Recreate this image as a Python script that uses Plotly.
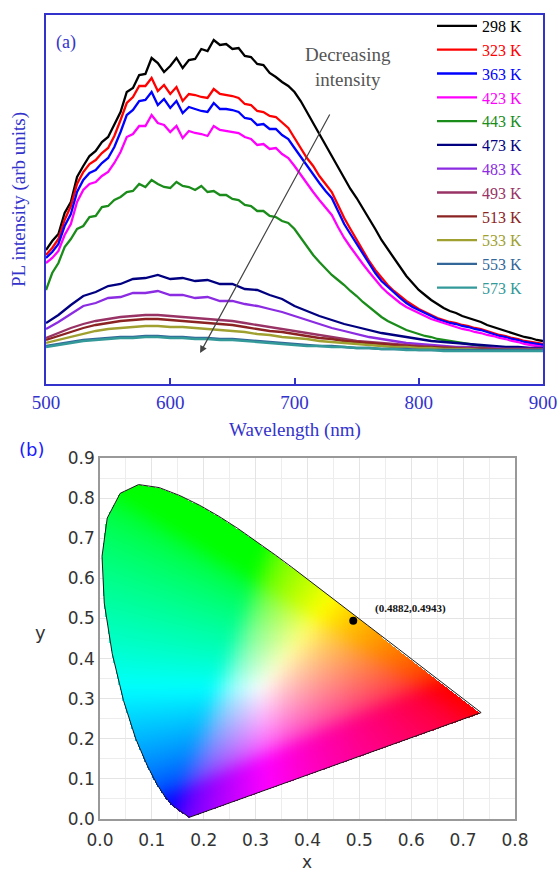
import numpy as np
import plotly.graph_objects as go

# ---------------- (a) PL spectra vs temperature ----------------
wl_fine = list(range(500, 905, 5))    # 5 nm sampling, 500-900 nm
wl_coarse = list(range(500, 910, 10))  # 10 nm sampling, 500-900 nm

temps = ["298 K", "323 K", "363 K", "423 K", "443 K", "473 K",
         "483 K", "493 K", "513 K", "533 K", "553 K", "573 K"]
colors = ["#000000", "#ff0000", "#0000ff", "#ff00ff", "#1a8c1a", "#000080",
          "#8b2be2", "#993366", "#8b2323", "#a0a030", "#336699", "#339999"]

pl_298 = [134, 143, 150, 171, 182, 207, 218, 228, 233, 242,
          247, 260, 272, 292, 296, 309, 310, 326, 321, 312,
          318, 326, 316, 324, 325, 335, 333, 344, 339, 340,
          335, 336, 328, 327, 320, 319, 311, 307, 302, 298,
          292, 283, 272, 261, 251, 240, 229, 218, 206, 195,
          186, 176, 166, 155, 144, 135, 126, 117, 108, 101,
          94, 89, 84, 80, 76, 73, 71, 68, 66, 64,
          62, 59, 57, 55, 53, 51, 49, 47, 46, 44,
          43]
pl_323 = [129, 136, 145, 164, 178, 200, 212, 220, 224, 231,
          236, 248, 264, 281, 287, 298, 298, 306, 293, 299,
          290, 297, 283, 290, 289, 287, 286, 295, 290, 289,
          288, 286, 280, 279, 273, 272, 268, 267, 261, 256,
          246, 236, 226, 218, 208, 200, 192, 179, 166, 155,
          144, 133, 123, 114, 106, 99, 93, 88, 83, 79,
          75, 72, 69, 66, 64, 62, 61, 59, 58, 56,
          55, 53, 51, 49, 48, 46, 45, 43, 42, 41,
          40]
pl_363 = [126, 132, 140, 158, 170, 192, 204, 211, 214, 221,
          226, 237, 252, 269, 274, 283, 284, 292, 279, 285,
          276, 283, 271, 277, 275, 273, 272, 281, 275, 275,
          274, 272, 266, 265, 259, 260, 255, 255, 249, 245,
          236, 227, 218, 209, 201, 193, 186, 173, 160, 150,
          140, 130, 120, 111, 103, 97, 91, 86, 81, 77,
          74, 71, 68, 65, 63, 61, 60, 58, 57, 55,
          54, 52, 50, 48, 47, 45, 44, 42, 41, 40,
          39]
pl_423 = [121, 126, 133, 149, 160, 182, 194, 200, 202, 208,
          212, 221, 232, 247, 250, 258, 258, 269, 261, 259,
          252, 258, 246, 253, 251, 250, 248, 258, 254, 253,
          252, 251, 247, 245, 239, 240, 235, 236, 230, 226,
          218, 209, 201, 192, 184, 176, 169, 157, 146, 137,
          128, 120, 112, 104, 97, 91, 86, 81, 77, 74,
          71, 68, 65, 63, 61, 59, 57, 55, 54, 52,
          51, 49, 48, 46, 45, 43, 42, 40, 39, 38,
          37]
pl_443 = [94, 111, 121, 137, 145, 155, 158, 167, 168, 177,
          178, 184, 187, 192, 193, 200, 197, 204, 200, 197,
          196, 202, 198, 197, 194, 198, 192, 193, 189, 189,
          185, 184, 179, 178, 173, 173, 168, 167, 163, 161,
          155, 146, 137, 129, 122, 115, 109, 104, 99, 93,
          88, 82, 77, 72, 67, 63, 60, 57, 54, 52,
          50, 48, 47, 45, 44, 43, 42, 41, 40, 39,
          38, 37, 37, 36, 36, 35, 35, 34, 34, 34,
          34]
pl_473 = [61, 69, 79, 88, 92, 98, 100, 105, 106, 109,
          105, 106, 103, 104, 100, 100, 95, 94, 89, 85,
          78, 73, 68, 64, 60, 57, 54, 51, 49, 47,
          45, 43, 42, 41, 40, 39, 38, 37, 37, 36,
          36]
pl_483 = [55, 62, 70, 78, 81, 86, 87, 91, 91, 93,
          89, 89, 86, 87, 83, 83, 80, 78, 75, 72,
          68, 64, 60, 56, 53, 50, 47, 45, 43, 41,
          40, 39, 38, 37, 37, 36, 36, 35, 35, 35,
          35]
pl_493 = [46, 51, 56, 60, 63, 65, 67, 68, 69, 69,
          68, 67, 66, 65, 64, 63, 61, 59, 57, 55,
          53, 51, 49, 47, 45, 43, 42, 41, 40, 39,
          38, 37, 37, 36, 36, 36, 35, 35, 35, 35,
          35]
pl_513 = [44, 48, 52, 56, 59, 61, 63, 64, 65, 65,
          64, 63, 62, 61, 60, 59, 57, 55, 53, 52,
          50, 48, 46, 45, 43, 42, 41, 40, 39, 38,
          37, 37, 36, 36, 35, 35, 35, 34, 34, 34,
          34]
pl_533 = [41, 44, 47, 50, 53, 55, 56, 57, 58, 58,
          57, 57, 56, 55, 54, 53, 52, 50, 49, 47,
          46, 45, 43, 42, 41, 40, 39, 38, 37, 37,
          36, 36, 35, 35, 35, 34, 34, 34, 34, 34,
          34]
pl_553 = [38, 40, 42, 44, 45, 46, 47, 47, 48, 48,
          47, 47, 46, 46, 45, 45, 44, 43, 42, 41,
          40, 39, 38, 38, 37, 36, 36, 35, 35, 35,
          34, 34, 34, 34, 34, 34, 34, 34, 34, 34,
          34]
pl_573 = [37, 39, 41, 43, 44, 45, 46, 46, 47, 47,
          46, 46, 45, 45, 44, 44, 43, 42, 41, 40,
          39, 38, 38, 37, 37, 36, 36, 35, 35, 34,
          34, 34, 33, 33, 33, 33, 33, 33, 33, 33,
          33]

spectra = [pl_298, pl_323, pl_363, pl_423, pl_443, pl_473,
           pl_483, pl_493, pl_513, pl_533, pl_553, pl_573]

# ---------------- (b) CIE 1931 chromaticity ----------------
# spectral locus, 380 nm -> 700 nm
locus_x = [0.1741, 0.1738, 0.1733, 0.1726, 0.1714, 0.1689, 0.1669, 0.1644,
           0.1611, 0.1566, 0.1510, 0.1440, 0.1355, 0.1241, 0.1096, 0.0913,
           0.0687, 0.0454, 0.0235, 0.0082, 0.0039, 0.0139, 0.0389, 0.0743,
           0.1142, 0.1547, 0.1929, 0.2296, 0.2658, 0.3016, 0.3373, 0.3731,
           0.4087, 0.4441, 0.4788, 0.5125, 0.5448, 0.5752, 0.6029, 0.6270,
           0.6482, 0.6658, 0.6801, 0.6915, 0.7006, 0.7079, 0.7140, 0.7190,
           0.7230, 0.7260, 0.7300, 0.7334, 0.7347]
locus_y = [0.0050, 0.0049, 0.0048, 0.0048, 0.0051, 0.0069, 0.0086, 0.0109,
           0.0138, 0.0177, 0.0227, 0.0297, 0.0399, 0.0578, 0.0868, 0.1327,
           0.2007, 0.2950, 0.4127, 0.5384, 0.6548, 0.7502, 0.8120, 0.8338,
           0.8262, 0.8059, 0.7816, 0.7543, 0.7243, 0.6923, 0.6589, 0.6245,
           0.5896, 0.5547, 0.5202, 0.4866, 0.4544, 0.4242, 0.3965, 0.3725,
           0.3514, 0.3340, 0.3197, 0.3083, 0.2993, 0.2920, 0.2859, 0.2809,
           0.2770, 0.2740, 0.2700, 0.2666, 0.2653]
cie_point_x = 0.4882
cie_point_y = 0.4943

BLUE = "#3333cc"
SERIF = "Liberation Serif"
SANS = "DejaVu Sans"
W, H = 559, 875

fig = go.Figure()

for name, col, vals in zip(temps, colors, spectra):
    xs = wl_fine if len(vals) == len(wl_fine) else wl_coarse
    fig.add_trace(go.Scatter(
        x=xs, y=vals, mode="lines",
        name=f"<span style='color:{col}'>{name}</span>",
        line=dict(color=col, width=2.3),
        xaxis="x", yaxis="y", hoverinfo="skip"))

# colour-filled chromaticity region
step = 0.0025
gx = np.arange(0, 0.8 + 1e-9, step)
gy = np.arange(0, 0.9 + 1e-9, step)
GX, GY = np.meshgrid(gx, gy)
lx = np.array(locus_x)
ly = np.array(locus_y)
inside = np.zeros(GX.shape, dtype=bool)
n = len(lx)
with np.errstate(divide="ignore", invalid="ignore"):
    for i in range(n):
        x1, y1 = lx[i], ly[i]
        x2, y2 = lx[(i + 1) % n], ly[(i + 1) % n]
        if y2 != y1:
            cross = (y1 > GY) != (y2 > GY)
            xint = x1 + (GY - y1) * (x2 - x1) / (y2 - y1)
            inside ^= cross & (GX < xint)
    yy = np.maximum(GY, 0.01)
    Xc = GX / yy
    Zc = np.maximum(1 - GX - GY, 0) / yy
    R = 3.2406 * Xc - 1.5372 - 0.4986 * Zc
    G = -0.9689 * Xc + 1.8758 + 0.0415 * Zc
    B = 0.0557 * Xc - 0.2040 + 1.0570 * Zc
    rgb = np.clip(np.stack([R, G, B], axis=-1), 0, None)
    rgb = rgb / np.maximum(rgb.max(axis=-1, keepdims=True), 1e-9)
    rgb = np.where(rgb <= 0.0031308, 12.92 * rgb, 1.055 * rgb ** (1 / 2.4) - 0.055)

# soften the hue ridges with a separable box blur (two passes)
r = 7
for _ in range(2):
    for axis in (0, 1):
        pad = [(0, 0)] * 3
        pad[axis] = (r, r)
        p = np.pad(rgb, pad, mode="edge")
        acc = np.zeros_like(rgb)
        L = rgb.shape[axis]
        for k in range(2 * r + 1):
            sl = [slice(None)] * 3
            sl[axis] = slice(k, k + L)
            acc += p[tuple(sl)]
        rgb = acc / (2 * r + 1)

rgb8 = np.clip(np.round(rgb * 255), 0, 255).astype(int)
alpha = inside.astype(int)
z = np.concatenate([rgb8, alpha[..., None]], axis=-1)
z[~inside, :3] = 255

fig.add_trace(go.Image(z=z.tolist(), colormodel="rgba", x0=0, dx=step, y0=0, dy=step,
                       xaxis="x2", yaxis="y2", hoverinfo="skip"))
fig.add_trace(go.Scatter(x=locus_x + [locus_x[0]], y=locus_y + [locus_y[0]],
                         mode="lines", line=dict(color="#1a1a1a", width=1),
                         xaxis="x2", yaxis="y2", showlegend=False, hoverinfo="skip"))
fig.add_trace(go.Scatter(x=[cie_point_x], y=[cie_point_y], mode="markers",
                         marker=dict(color="black", size=8),
                         xaxis="x2", yaxis="y2", showlegend=False))


def px(v):
    return v / W


def py(v):
    return 1 - v / H


fig.update_layout(
    width=W, height=H,
    margin=dict(l=0, r=0, t=0, b=0, autoexpand=False),
    paper_bgcolor="white", plot_bgcolor="white",
    showlegend=True,
    legend=dict(x=px(432), y=py(9), xanchor="left", yanchor="top",
                bgcolor="rgba(0,0,0,0)", font=dict(family=SERIF, size=16),
                tracegroupgap=0, itemwidth=40),
    xaxis=dict(domain=[px(46), px(543)], range=[500, 900], anchor="y",
               automargin=False,
               tickvals=[500, 600, 700, 800, 900], ticks="inside", ticklen=6,
               tickwidth=1.5, tickcolor=BLUE, showline=True, linecolor=BLUE,
               linewidth=2, mirror=True, showgrid=False, zeroline=False,
               tickfont=dict(family=SERIF, size=19, color=BLUE)),
    yaxis=dict(domain=[py(384), py(15)], range=[0, 369], anchor="x",
               automargin=False,
               showticklabels=False, ticks="", showline=True, linecolor=BLUE,
               linewidth=2, mirror=True, showgrid=False, zeroline=False),
    xaxis2=dict(domain=[px(100), px(515)], range=[0, 0.8], anchor="y2",
                automargin=False,
                tick0=0, dtick=0.1, tickformat=".1f", showgrid=True,
                gridcolor="#e4e4e4", gridwidth=1,
                minor=dict(dtick=0.05, showgrid=True, gridcolor="#ededed"),
                showline=True, linecolor="#999999", linewidth=1.5, mirror=True,
                ticks="outside", ticklen=5, tickcolor="rgba(0,0,0,0)",
                zeroline=False, tickfont=dict(family=SANS, size=17, color="#333333")),
    yaxis2=dict(domain=[py(819), py(458)], range=[0, 0.9], anchor="x2",
                automargin=False, autorange=False, scaleanchor=False,
                tick0=0, dtick=0.1, tickformat=".1f", showgrid=True,
                gridcolor="#e4e4e4", gridwidth=1,
                minor=dict(dtick=0.05, showgrid=True, gridcolor="#ededed"),
                showline=True, linecolor="#999999", linewidth=1.5, mirror=True,
                ticks="", zeroline=False,
                tickfont=dict(family=SANS, size=17, color="#333333")),
)


def label(text, x, y, font, **kw):
    d = dict(text=text, x=x, y=y, xref="paper", yref="paper", showarrow=False,
             xanchor="center", yanchor="middle", font=font)
    d.update(kw)
    return d


annotations = [
    label("(a)", px(66), py(42), dict(family=SERIF, size=18, color=BLUE)),
    label("PL intensity (arb units)", px(19), py(200),
          dict(family=SERIF, size=19, color=BLUE), textangle=-90),
    label("Wavelength (nm)", px(295), py(430), dict(family=SERIF, size=19, color=BLUE)),
    dict(text="Decreasing<br>intensity", x=743, y=317, xref="x", yref="y",
         xanchor="center", yanchor="middle",
         showarrow=False, font=dict(family=SERIF, size=19, color="#555555")),
    dict(text="", x=624, y=31, ax=729, ay=271, xref="x", yref="y",
         axref="x", ayref="y", showarrow=True, arrowhead=2, arrowsize=1.2,
         arrowwidth=1.2, arrowcolor="#444444"),
    label("(b)", px(31), py(450), dict(family=SANS, size=18, color="#1a1aff")),
    label("y", px(40), py(632), dict(family=SANS, size=18, color="#333333")),
    label("x", px(307), py(862), dict(family=SANS, size=17, color="#333333")),
    dict(text=f"<b>({cie_point_x:.4f},{cie_point_y:.4f})</b>",
         x=cie_point_x + 0.038, y=cie_point_y + 0.03, xref="x2", yref="y2",
         xanchor="left", yanchor="middle", showarrow=False,
         font=dict(family=SERIF, size=11, color="#111111")),
]
fig.update_layout(annotations=annotations)

fig.write_html("out.html")
